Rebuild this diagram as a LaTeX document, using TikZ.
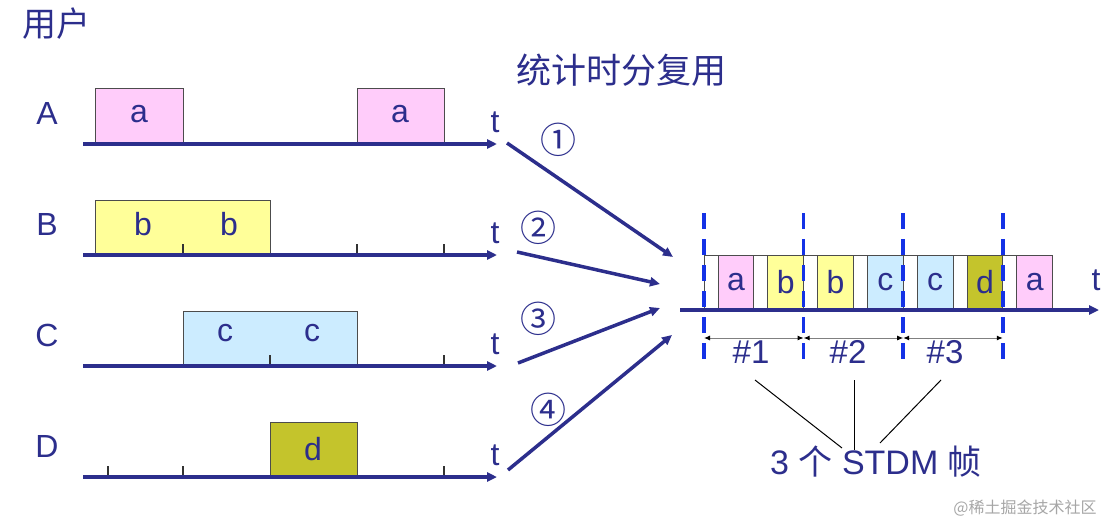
\documentclass[tikz,border=0pt]{standalone}
\usepackage{fontspec}
\setmainfont{Liberation Sans}
\newfontfamily\cjk{Noto Sans CJK SC}
\usetikzlibrary{arrows.meta}
\definecolor{navy}{RGB}{44,46,140}
\definecolor{pinkbox}{RGB}{255,204,250}
\definecolor{yellowbox}{RGB}{255,255,153}
\definecolor{bluebox}{RGB}{204,236,255}
\definecolor{olivebox}{RGB}{196,196,44}
\definecolor{dashblue}{RGB}{20,50,230}

\begin{document}
\begin{tikzpicture}[x=1pt,y=-1pt,
	lbl/.style={text=navy,font=\fontsize{32}{32}\selectfont,inner sep=0pt},
	axis/.style={navy,line width=3.5pt,-{Triangle[length=10pt,width=9pt]}},
	box/.style={draw=black!70,line width=1pt},
	tick/.style={black!80,line width=1.2pt}]
	\useasboundingbox (0,0) rectangle (1111,524);

	\node[lbl,font=\cjk\fontsize{34}{34}\selectfont] (users) at (56,24) {用户};
	\node[lbl,font=\cjk\fontsize{35}{35}\selectfont] (title) at (621,70) {统计时分复用};

	% user A
	\filldraw[box,fill=pinkbox] (95,89) rectangle (183,144);
	\filldraw[box,fill=pinkbox] (357,89) rectangle (444,144);
	\node[lbl] (a1) at (139,114) {a};
	\node[lbl] (a2) at (400,114) {a};
	% user B
	\filldraw[box,fill=yellowbox] (95,200) rectangle (270,255);
	\node[lbl] (b1) at (143,224) {b};
	\node[lbl] (b2) at (229,224) {b};
	\foreach \x in {183,357,444}
		\draw[tick] (\x,255) -- (\x,244);
	% user C
	\filldraw[box,fill=bluebox] (183,311) rectangle (357,366);
	\node[lbl] (c1) at (225,333) {c};
	\node[lbl] (c2) at (312,333) {c};
	\foreach \x in {270,444}
		\draw[tick] (\x,366) -- (\x,355);
	% user D
	\filldraw[box,fill=olivebox] (270,422) rectangle (357,477);
	\node[lbl] (d1) at (313,449) {d};
	\foreach \x in {108,183,444}
		\draw[tick] (\x,477) -- (\x,466);

	\foreach \name/\y in {A/144,B/255,C/366,D/477}{
		\coordinate (s\name) at (83,\y);
		\coordinate (e\name) at (497,\y);
		\draw[axis] (s\name) -- (e\name);
		\node[lbl] (l\name) at (47,\y-31) {\name};
		\node[lbl] (t\name) at (495,\y-22) {t};
	}

	% STDM frames
	\foreach \i/\col/\txt in {0/pinkbox/a,1/yellowbox/b,2/yellowbox/b,3/bluebox/c,4/bluebox/c,5/olivebox/d,6/pinkbox/a}{
		\filldraw[box,fill=white] (704+49.8*\i,255) rectangle (718+49.8*\i,310);
		\filldraw[box,fill=\col] (718+49.8*\i,255) rectangle (753.8+49.8*\i,310);
		\node[lbl] (m\i) at (736+49.8*\i,282) {\txt};
	}
	\coordinate (smux) at (680,310);
	\coordinate (emux) at (1099,310);
	\draw[axis] (smux) -- (emux);
	\node[lbl] (tmux) at (1096,280) {t};

	\foreach \i/\x in {0/704,1/803.6,2/903.2,3/1002.8}{
		\coordinate (f\i) at (\x,338);
		\draw[dashblue,line width=3.5pt,dash pattern=on 16pt off 10pt] (\x,213) -- (\x,362);
	}
	\foreach \i/\j in {0/1,1/2,2/3}
		\draw[black!50,line width=1pt,{Latex[length=6pt,width=5pt,black]}-{Latex[length=6pt,width=5pt,black]}] (f\i) -- (f\j);
	\node[lbl,font=\fontsize{33}{33}\selectfont] (n1) at (751,352) {\#1};
	\node[lbl,font=\fontsize{33}{33}\selectfont] (n2) at (848,352) {\#2};
	\node[lbl,font=\fontsize{33}{33}\selectfont] (n3) at (945,352) {\#3};

	\node[lbl,font=\fontsize{34}{34}\selectfont] (frm) at (876,462) {3 {\cjk 个} STDM {\cjk 帧}};
	\coordinate (p1) at (755,380);
	\coordinate (p2) at (854,380);
	\coordinate (p3) at (941,380);
	\coordinate (q1) at (842,448);
	\coordinate (q2) at (854,450);
	\coordinate (q3) at (880,443);
	\foreach \i in {1,2,3}
		\draw[black,line width=1pt] (p\i) -- (q\i);

	% inputs to the multiplexer
	\coordinate (i1) at (507,143);
	\coordinate (i2) at (517,252);
	\coordinate (i3) at (518,363);
	\coordinate (i4) at (508,470);
	\coordinate (o1) at (673,257);
	\coordinate (o2) at (660,284);
	\coordinate (o3) at (660,308);
	\coordinate (o4) at (672,335);
	\foreach \i in {1,2,3,4}
		\draw[axis] (i\i) -- (o\i);
	\node[lbl,font=\cjk\fontsize{36}{36}\selectfont] (k1) at (558,140) {①};
	\node[lbl,font=\cjk\fontsize{36}{36}\selectfont] (k2) at (538,228) {②};
	\node[lbl,font=\cjk\fontsize{36}{36}\selectfont] (k3) at (538,319) {③};
	\node[lbl,font=\cjk\fontsize{36}{36}\selectfont] (k4) at (548,410) {④};

	\node[text=black!35,font=\cjk\fontsize{16}{16}\selectfont,inner sep=0pt] (mark) at (1025,508) {@稀土掘金技术社区};
\end{tikzpicture}
\end{document}
